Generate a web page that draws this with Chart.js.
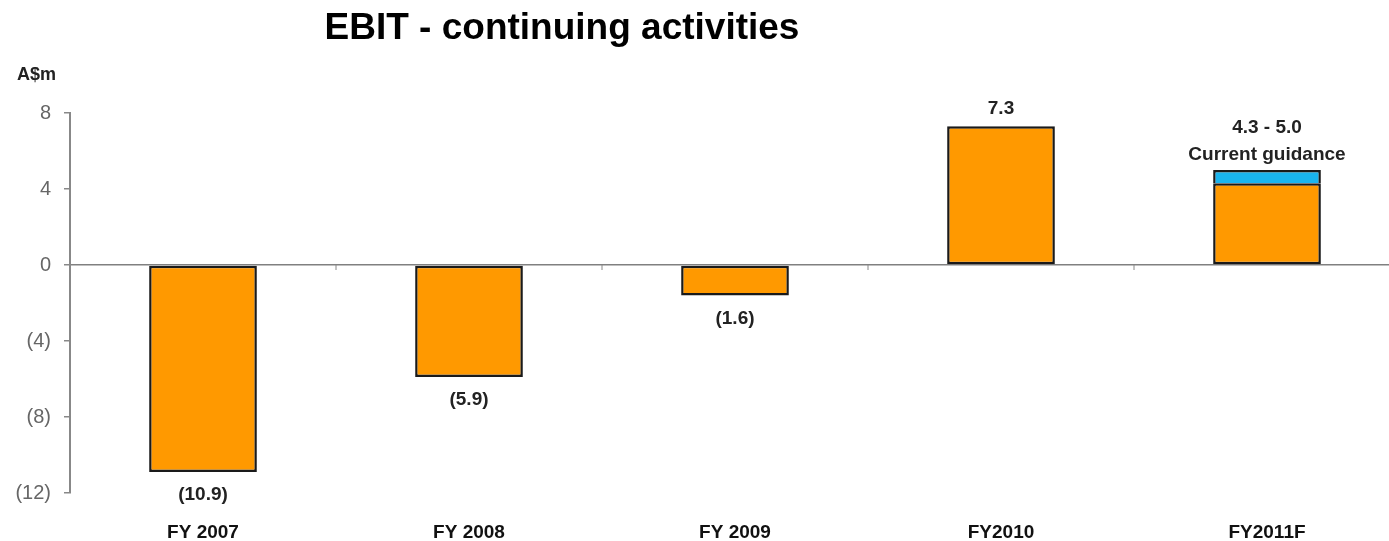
<!DOCTYPE html>
<html>
<head>
<meta charset="utf-8">
<script src="https://cdn.jsdelivr.net/npm/chart.js@4/dist/chart.umd.min.js"></script>
<style>
  html, body { margin: 0; padding: 0; background: #fff; overflow: hidden; }
  canvas { display: block; }
</style>
</head>
<body>
<canvas id="chart" width="1400" height="541"></canvas>
<script>
const categories = ['FY 2007', 'FY 2008', 'FY 2009', 'FY2010', 'FY2011F']
const ebit = [-10.9, -5.9, -1.6, 7.3, 4.3]
const guidanceRange = [0, 0, 0, 0, 0.7]
const guidanceNote = ['', '', '', '', 'Current guidance']
const yTicks = [8, 4, 0, -4, -8, -12]

const FONT = "'Liberation Sans', Arial, sans-serif"

function fmt (v) {
  return v < 0 ? '(' + Math.abs(v).toFixed(1) + ')' : v.toFixed(1)
}

const labelsPlugin = {
  id: 'labels',
  afterDatasetsDraw (chart) {
    const ctx = chart.ctx
    const base = chart.getDatasetMeta(0).data
    const y = chart.scales.y
    const x = chart.scales.x
    ctx.save()
    ctx.fillStyle = '#222'
    ctx.font = 'bold 19px ' + FONT
    ctx.textAlign = 'center'
    ctx.textBaseline = 'middle'
    categories.forEach((c, i) => {
      const bx = base[i].x
      if (ebit[i] < 0) {
        ctx.fillText(fmt(ebit[i]), bx, base[i].y + 23)
      } else if (guidanceRange[i] > 0) {
        const t = y.getPixelForValue(ebit[i] + guidanceRange[i])
        ctx.fillText(ebit[i].toFixed(1) + ' - ' + (ebit[i] + guidanceRange[i]).toFixed(1), bx, t - 42)
        ctx.fillText(guidanceNote[i], bx, t - 15)
      } else {
        ctx.fillText(fmt(ebit[i]), bx, base[i].y - 18)
      }
    })
    // category tick marks on the zero line
    const zero = y.getPixelForValue(0)
    ctx.strokeStyle = '#888'
    ctx.lineWidth = 1
    for (let i = 1; i < categories.length; i++) {
      const px = (x.getPixelForValue(i - 1) + x.getPixelForValue(i)) / 2
      ctx.beginPath()
      ctx.moveTo(px, zero)
      ctx.lineTo(px, zero + 5)
      ctx.stroke()
    }
    // title and unit
    ctx.fillStyle = '#000'
    ctx.font = 'bold 37px ' + FONT
    ctx.fillText('EBIT - continuing activities', 562, 29)
    ctx.fillStyle = '#222'
    ctx.font = 'bold 18px ' + FONT
    ctx.textAlign = 'left'
    ctx.fillText('A$m', 17, 75)
    ctx.restore()
  }
}

new Chart(document.getElementById('chart'), {
  type: 'bar',
  data: {
    labels: categories,
    datasets: [
      {
        label: 'EBIT',
        data: ebit,
        backgroundColor: '#FF9900',
        borderColor: '#1a1a1a',
        borderWidth: 2.5,
        borderSkipped: false,
        categoryPercentage: 1,
        barPercentage: 0.405
      },
      {
        label: 'Guidance range',
        data: guidanceRange,
        backgroundColor: '#19B4EE',
        borderColor: '#1a1a1a',
        borderWidth: 2.5,
        borderSkipped: 'bottom',
        categoryPercentage: 1,
        barPercentage: 0.405
      }
    ]
  },
  options: {
    responsive: false,
    animation: false,
    layout: { padding: { top: 113, left: 0, right: 0, bottom: 0 } },
    plugins: {
      legend: { display: false },
      tooltip: { enabled: false }
    },
    scales: {
      x: {
        stacked: true,
        grid: { display: false, drawTicks: false },
        border: { display: false },
        ticks: {
          color: '#111',
          font: { family: FONT, size: 19, weight: 'bold' },
          padding: 28
        },
        afterFit: s => { s.height = 48 }
      },
      y: {
        stacked: true,
        min: -12,
        max: 8,
        afterBuildTicks: s => { s.ticks = yTicks.map(v => ({ value: v })) },
        grid: {
          color: c => (c.tick && c.tick.value === 0 ? '#808080' : 'transparent'),
          lineWidth: 1.5,
          tickColor: '#888',
          tickLength: 6
        },
        border: { display: true, color: '#888', width: 2 },
        ticks: {
          color: '#666',
          font: { family: FONT, size: 20 },
          padding: 13,
          callback: v => (v < 0 ? '(' + Math.abs(v) + ')' : String(v))
        },
        afterFit: s => { s.width = 70 }
      }
    }
  },
  plugins: [labelsPlugin]
})
</script>
</body>
</html>
